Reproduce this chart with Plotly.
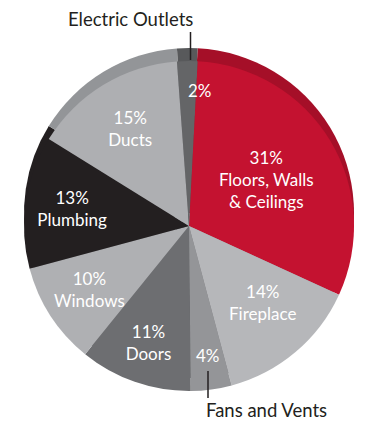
import plotly.graph_objects as go

labels = ["Floors, Walls<br>& Ceilings", "Fireplace", "Fans and Vents", "Doors",
          "Windows", "Plumbing", "Ducts", "Electric Outlets"]
values = [31, 14, 4, 11, 10, 13, 15, 2]
face_colors = ["#C41230", "#B6B7BA", "#949598", "#6D6E71",
               "#AFB0B3", "#231F20", "#AEAFB2", "#646567"]
rim_colors = ["#A50F28", "#9A9B9E", "#808184", "#5C5D60",
              "#949598", "#231F20", "#939598", "#58595B"]
# slices whose label is drawn by the pie itself
auto_text = [True, False, False, True, False, True, True, False]

FONT = "Lato"
W, H = 366, 422
cx, cy, r, rim = 189, 226, 165, 13

templates = ["%{value}%<br>%{label}" if t else "" for t in auto_text]

dom_x = [(cx - r) / W, (cx + r) / W]
dom_y = [(H - cy - r) / H, (H - cy + r) / H]
rim_y = [dom_y[0] + rim / H, dom_y[1] + rim / H]

fig = go.Figure()
fig.add_trace(go.Pie(
    labels=labels, values=values, sort=False, direction="clockwise", rotation=3,
    marker=dict(colors=rim_colors, line=dict(width=0)),
    textinfo="none", hoverinfo="skip", showlegend=False,
    domain=dict(x=dom_x, y=rim_y),
))
fig.add_trace(go.Pie(
    labels=labels, values=values, sort=False, direction="clockwise", rotation=3,
    marker=dict(colors=face_colors, line=dict(width=0)),
    texttemplate=templates, textposition="inside", insidetextorientation="horizontal",
    textfont=dict(family=FONT, size=17, color="white"),
    showlegend=False,
    domain=dict(x=dom_x, y=dom_y),
))

white = dict(color="white", family=FONT, size=17)
dark = dict(color="#231F20", family=FONT, size=18.5)
annotations = [
    dict(text=labels[7], x=130, y=19, font=dark),
    dict(text=labels[2], x=266, y=410, font=dark),
    dict(text=f"{values[7]}%", x=200, y=91, font=white),
    dict(text=f"{values[2]}%", x=208, y=355, font=white),
    dict(text=f"{values[4]}%<br>{labels[4]}", x=89, y=289, font=white),
    dict(text=f"{values[1]}%<br>{labels[1]}", x=262, y=302, font=white),
]
for a in annotations:
    a.update(xref="paper", yref="paper", showarrow=False, xanchor="center", yanchor="middle")
    a["x"] = a["x"] / W
    a["y"] = 1 - a["y"] / H

shapes = [
    dict(type="line", x0=190.5 / W, x1=190.5 / W, y0=1 - 32 / H, y1=1 - 60 / H),
    dict(type="line", x0=208 / W, x1=208 / W, y0=1 - 371 / H, y1=1 - 398 / H),
]
for s in shapes:
    s.update(xref="paper", yref="paper", line=dict(color="#231F20", width=1.5))

fig.update_layout(
    width=W, height=H, margin=dict(l=0, r=0, t=0, b=0),
    paper_bgcolor="white", plot_bgcolor="white",
    annotations=annotations, shapes=shapes,
)
fig.write_html("out.html")
